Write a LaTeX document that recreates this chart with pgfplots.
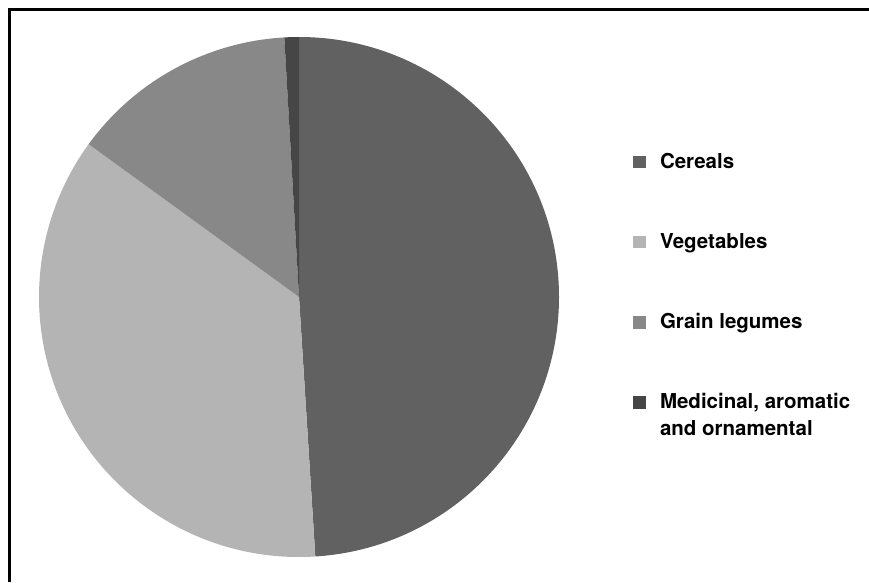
\documentclass[border=0pt]{standalone}
\usepackage{pgfplots}
\pgfplotsset{compat=1.18}
\usepackage{pgfplotstable}
\usepackage{fontspec}
\setmainfont{TeX Gyre Heros}
\definecolor{cer}{HTML}{616161}
\definecolor{veg}{HTML}{B4B4B4}
\definecolor{leg}{HTML}{888888}
\definecolor{med}{HTML}{464646}
% share of each group (%), clockwise from 12 o'clock
\pgfplotstableread{
value colour
49.0 cer
36.0 veg
14.1 leg
0.9 med
}\piedata
\begin{document}
\begin{tikzpicture}[x=1pt,y=1pt]
\useasboundingbox (0,0) rectangle (869,582);
\draw[line width=3pt] (9.5,0) -- (9.5,572.5) -- (869,572.5);
\begin{axis}[at={(39pt,25pt)}, anchor=south west, scale only axis,
  width=520pt, height=520pt, xmin=-1, xmax=1, ymin=-1, ymax=1,
  hide axis, clip=false,
  legend image code/.code={\fill[#1] (0pt,0pt) rectangle (13pt,12.5pt);},
  legend style={draw=none, fill=none, inner sep=0pt, outer sep=0pt,
    at={(1.1423,0.775)}, anchor=north west,
    row sep=62.3pt, column sep=14pt,
    font=\bfseries\fontsize{20.5}{27}\selectfont,
    nodes={inner sep=0pt, text height=14pt, text depth=4pt},
    cells={anchor=base west}},
]
\pgfplotsextra{%
  \gdef\curangle{90}%
  \pgfplotsforeachungrouped \i in {0,1,2,3}{%
    \pgfplotstablegetelem{\i}{value}\of\piedata \let\slicev\pgfplotsretval
    \pgfplotstablegetelem{\i}{colour}\of\piedata \let\slicecol\pgfplotsretval
    \pgfmathsetmacro\endangle{\curangle-3.6*\slicev}%
    \fill[fill=\slicecol] (axis cs:0,0) -- (axis cs:{cos(\curangle)},{sin(\curangle)})
      arc[start angle=\curangle, end angle=\endangle, radius=260pt] -- cycle;
    \global\let\curangle\endangle
  }%
}
\addlegendimage{fill=cer, draw=none}
\addlegendentry{Cereals}
\addlegendimage{fill=veg, draw=none}
\addlegendentry{Vegetables}
\addlegendimage{fill=leg, draw=none}
\addlegendentry{Grain legumes}
\addlegendimage{fill=med, draw=none}
\addlegendentry{\begin{tabular}[t]{@{}l@{}}Medicinal, aromatic\\and ornamental\end{tabular}}
\end{axis}
\end{tikzpicture}
\end{document}
